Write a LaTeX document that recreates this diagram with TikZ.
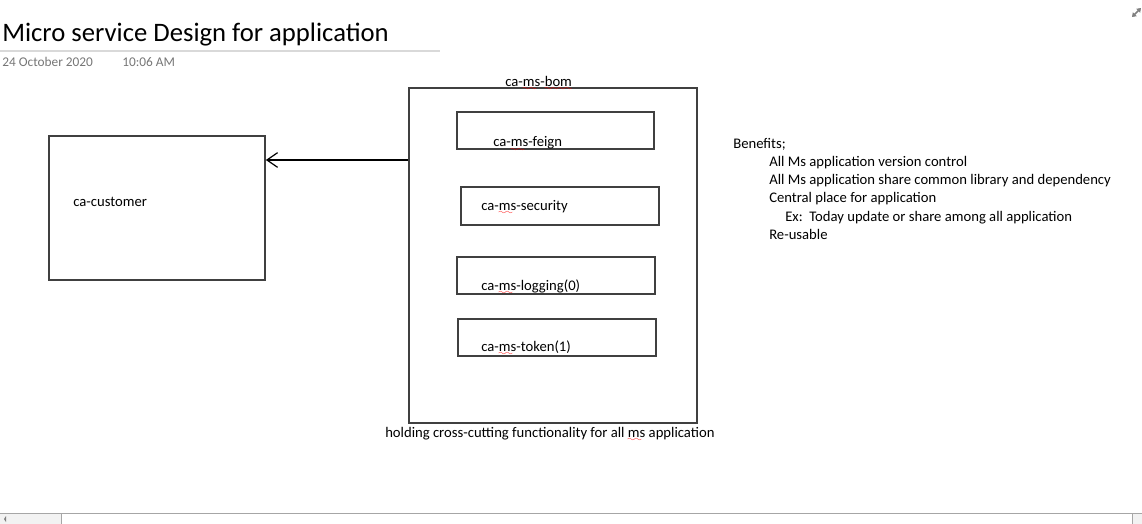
\documentclass[tikz,border=0pt]{standalone}
\usepackage{fontspec}
\setmainfont{Carlito}
\usepackage{tikz}
\usetikzlibrary{arrows.meta}
\usetikzlibrary{positioning}
\font\wavefont=lasy6
\newcommand\spellmark[1]{\setbox0\hbox{#1}\rlap{\color{red}\lower3pt\hbox to\wd0{\leaders\hbox{\wavefont\char58}\hfil}}#1}
\definecolor{boxline}{RGB}{64,64,64}
\definecolor{dategray}{RGB}{118,118,118}
\tikzset{
   msbox/.style={draw=boxline, line width=1.3pt, inner sep=0pt},
   lbl/.style={anchor=base west, inner sep=0pt, font=\fontsize{11}{13}\selectfont},
   benefit/.style={lbl},
   calls/.style={draw=black, line width=1pt,
      -{Straight Barb[length=8pt,width=11pt,line width=0.9pt]}},
    }
\begin{document}
\begin{tikzpicture}[x=0.75pt,y=-0.75pt]
            \useasboundingbox (0,0) rectangle (1142,524);
            % page heading
            \node[anchor=base west, inner sep=0pt, font=\fontsize{20}{24}\selectfont] (title) at (2,42) {Micro service Design for application};
            \draw[black!15, line width=0.8pt] (0,51) -- (440,51);
            \node[lbl, font=\fontsize{10}{12}\selectfont, text=dategray] (date) at (2,66.5) {24 October 2020};
            \node[lbl, font=\fontsize{10}{12}\selectfont, text=dategray] (time) at (122,66.5) {10:06 AM};
            % boxes
            \node[msbox, minimum width=162pt, minimum height=108pt] (cust) at (157,208) {};
            \node[msbox, minimum width=216pt, minimum height=251.25pt] (bom) at (553,255.5) {};
            \node[msbox, minimum width=147.75pt, minimum height=27.75pt] (feign) at (555.5,130.5) {};
            \node[msbox, minimum width=148.5pt, minimum height=28.5pt] (security) at (560,206) {};
            \node[msbox, minimum width=148.5pt, minimum height=27.75pt] (logging) at (556,275.5) {};
            \node[msbox, minimum width=148.5pt, minimum height=27.75pt] (token) at (557,337.5) {};
            % labels
            \node[lbl] (custlbl) at (73,206) {ca-customer};
            \node[lbl] (bomlbl) at (505,87) {ca-\spellmark{ms}-\spellmark{bom}};
            \node[lbl] (feignlbl) at (493,147) {ca-\spellmark{ms}-feign};
            \node[lbl] (securitylbl) at (481,210) {ca-\spellmark{ms}-security};
            \node[lbl] (logginglbl) at (481,290) {ca-\spellmark{ms}-logging(0)};
            \node[lbl] (tokenlbl) at (481,351) {ca-\spellmark{ms}-token(1)};
            \node[lbl] (holdlbl) at (385,437) {holding cross-cutting functionality for all \spellmark{ms} application};
            % bom feeds customer
            \coordinate (tap) at (bom.west |- 0,160);
            \draw[calls] (tap) -- (tap -| cust.east);
            % benefits
            \node[benefit] (ben) at (733,149) {Benefits;};
            \node[benefit] (ben1) at (769,167) {All Ms application version control};
            \node[benefit] (ben2) at (769,185) {All Ms application share common library and dependency};
            \node[benefit] (ben3) at (769,203) {Central place for application};
            \node[benefit] (ben4) at (785,221) {Ex:\ \ Today update or share among all application};
            \node[benefit] (ben5) at (769,239) {Re-usable};
            % window bits
            \draw[black!50, line width=1.2pt, {Triangle[length=3pt,width=4pt]}-{Triangle[length=3pt,width=4pt]}] (1132,17) -- (1141,8);
            \fill[black!5] (0,513) rectangle (1142,524);
            \draw[black!35, fill=white] (61,513) rectangle (1132,525);
            \draw[black!35] (0,513) -- (1142,513);
            \fill[black!50] (4,519) -- (6,516) -- (6,522) -- cycle;
        \end{tikzpicture}
\end{document}
